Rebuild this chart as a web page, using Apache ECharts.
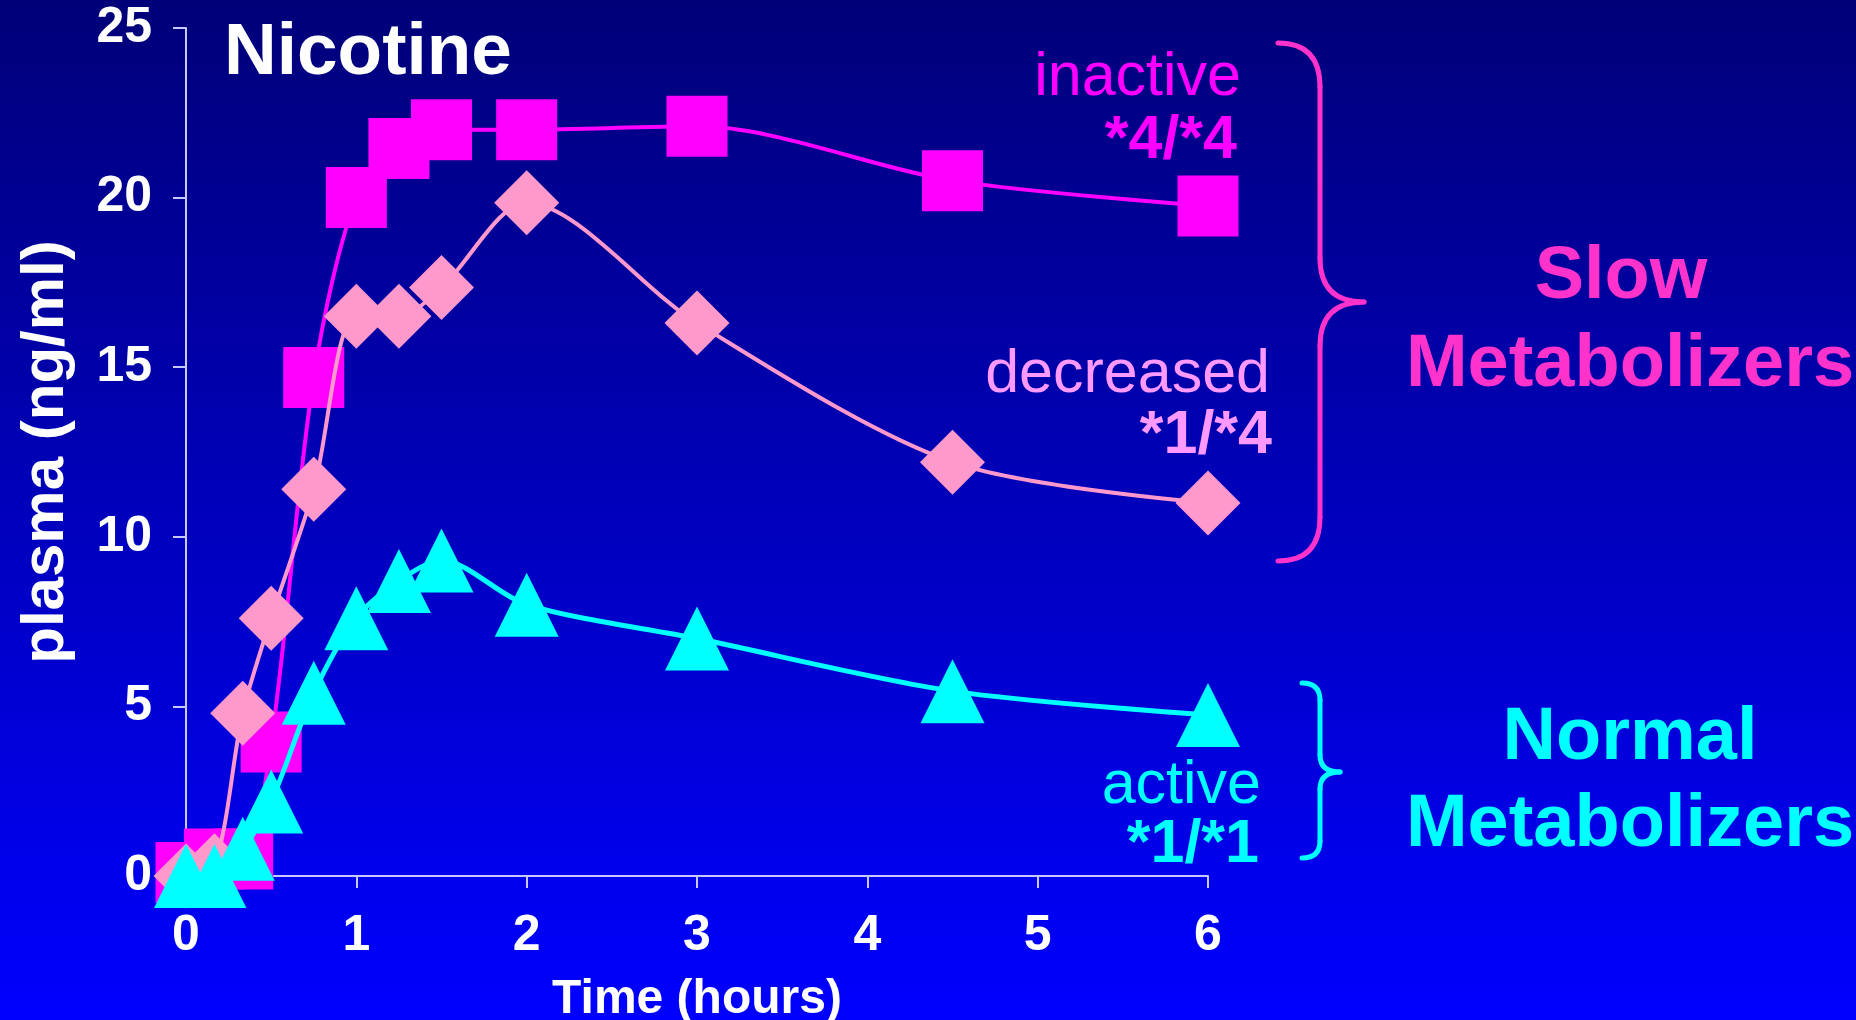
<!DOCTYPE html>
<html>
<head>
<meta charset="utf-8">
<script src="https://cdn.jsdelivr.net/npm/echarts@6/dist/echarts.min.js"></script>
<style>
html,body{margin:0;padding:0;width:1856px;height:1020px;overflow:hidden;background:#0000c0;}
#c{width:1856px;height:1020px;}
</style>
</head>
<body>
<div id="c"></div>
<script>
// ---- data (time in hours, plasma nicotine in ng/ml) ----
const times = [0, 0.167, 0.333, 0.5, 0.75, 1, 1.25, 1.5, 2, 3, 4.5, 6];
const inactive44 = [0.1, 0.5, 0.5, 3.95, 14.7, 20.0, 21.45, 22.0, 22.0, 22.1, 20.5, 19.75];
const decreased14 = [0, 0.3, 4.8, 7.6, 11.4, 16.5, 16.5, 17.35, 19.85, 16.3, 12.2, 11.0];
const active11 = [0, 0, 0.8, 2.2, 5.4, 7.6, 8.7, 9.3, 8.0, 7.0, 5.45, 4.75];
const xTicks = [0, 1, 2, 3, 4, 5, 6];
const yTicks = [0, 5, 10, 15, 20, 25];

const FONT = '"Liberation Sans", Arial, Helvetica, sans-serif';
const pairs = (vals) => times.map((t, i) => [t, vals[i]]);

const chart = echarts.init(document.getElementById('c'), null, {renderer: 'canvas'});

function txt(text, x, y, color, size, weight, align) {
  return {
    type: 'text', x: x, y: y, z: 100,
    style: {
      text: text, x: 0, y: 0, fill: color,
      fontSize: size, fontWeight: weight, fontFamily: FONT,
      align: align, verticalAlign: 'middle',
      textAlign: align, textVerticalAlign: 'middle'
    }
  };
}
function seg(x1, y1, x2, y2, color) {
  return {type: 'line', z: 100, shape: {x1: x1, y1: y1, x2: x2, y2: y2},
    style: {stroke: color, lineWidth: 5, lineCap: 'round'}};
}
function curve(x1, y1, cx, cy, x2, y2, color) {
  return {type: 'bezierCurve', z: 100, shape: {x1: x1, y1: y1, cpx1: cx, cpy1: cy, x2: x2, y2: y2},
    style: {stroke: color, lineWidth: 5, lineCap: 'round', fill: null}};
}
function brace(xe, xs, xt, yTop, yMid, yBot, r, color) {
  return [
    curve(xe, yTop, xs, yTop, xs, yTop + r, color),
    seg(xs, yTop + r, xs, yMid - r, color),
    curve(xs, yMid - r, xs, yMid, xt, yMid, color),
    curve(xt, yMid, xs, yMid, xs, yMid + r, color),
    seg(xs, yMid + r, xs, yBot - r, color),
    curve(xs, yBot - r, xs, yBot, xe, yBot, color)
  ];
}

const axisLineColor = '#c8c8ff';

const option = {
  animation: false,
  backgroundColor: {
    type: 'linear', x: 0, y: 0, x2: 0, y2: 1,
    colorStops: [{offset: 0, color: '#000078'}, {offset: 1, color: '#0000ff'}]
  },
  grid: {left: 186, right: 648, top: 28, bottom: 144, containLabel: false, outerBoundsMode: 'none'},
  xAxis: {
    type: 'value', min: xTicks[0], max: xTicks[xTicks.length - 1], interval: 1,
    name: 'Time (hours)', nameLocation: 'middle', nameGap: 100,
    nameTextStyle: {color: '#ffffff', fontSize: 48, fontWeight: 'bold', fontFamily: FONT},
    axisLine: {show: true, lineStyle: {color: axisLineColor, width: 2}},
    axisTick: {show: true, length: 12, inside: false, lineStyle: {color: axisLineColor, width: 2}},
    splitLine: {show: false},
    axisLabel: {color: '#ffffff', fontSize: 50, fontWeight: 'bold', fontFamily: FONT, margin: 35}
  },
  yAxis: {
    type: 'value', min: yTicks[0], max: yTicks[yTicks.length - 1], interval: 5,
    name: 'plasma (ng/ml)', nameLocation: 'middle', nameGap: 110, nameRotate: 90,
    nameTextStyle: {color: '#ffffff', fontSize: 60, fontWeight: 'bold', fontFamily: FONT},
    axisLine: {show: true, lineStyle: {color: axisLineColor, width: 2}},
    axisTick: {show: true, length: 13, inside: false, lineStyle: {color: axisLineColor, width: 2}},
    splitLine: {show: false},
    axisLabel: {color: '#ffffff', fontSize: 50, fontWeight: 'bold', fontFamily: FONT, margin: 34}
  },
  series: [
    {
      name: 'inactive *4/*4', type: 'line', data: pairs(inactive44), smooth: 0.3, clip: false,
      symbol: 'rect', symbolSize: 61,
      itemStyle: {color: '#ff00ff'}, lineStyle: {color: '#ff00ff', width: 4}, z: 2
    },
    {
      name: 'decreased *1/*4', type: 'line', data: pairs(decreased14), smooth: 0.3, clip: false,
      symbol: 'diamond', symbolSize: 65,
      itemStyle: {color: '#ff99cc'}, lineStyle: {color: '#ff99cc', width: 4}, z: 3
    },
    {
      name: 'active *1/*1', type: 'line', data: pairs(active11), smooth: 0.3, clip: false,
      symbol: 'triangle', symbolSize: 64,
      itemStyle: {color: '#00ffff'}, lineStyle: {color: '#00ffff', width: 5}, z: 4
    }
  ],
  graphic: [
    txt('Nicotine', 224, 54, '#ffffff', 73, 'bold', 'left'),
    txt('inactive', 1241, 78, '#ff00ff', 61, 'normal', 'right'),
    txt('*4/*4', 1237, 141, '#ff00ff', 61, 'bold', 'right'),
    txt('decreased', 1270, 375, '#ff99ff', 61, 'normal', 'right'),
    txt('*1/*4', 1272, 436, '#ff99ff', 61, 'bold', 'right'),
    txt('active', 1261, 786, '#00ffff', 61, 'normal', 'right'),
    txt('*1/*1', 1259, 845, '#00ffff', 61, 'bold', 'right'),
    txt('Slow', 1621, 278, '#ff33cc', 74, 'bold', 'center'),
    txt('Metabolizers', 1630, 366, '#ff33cc', 74, 'bold', 'center'),
    txt('Normal', 1630, 739, '#00ffff', 74, 'bold', 'center'),
    txt('Metabolizers', 1630, 826, '#00ffff', 74, 'bold', 'center')
  ].concat(
    brace(1278, 1320, 1364, 43, 302, 561, 44, '#ff33cc'),
    brace(1302, 1320, 1340, 683, 772, 858, 17, '#00ffff')
  )
};
chart.setOption(option);
</script>
</body>
</html>
